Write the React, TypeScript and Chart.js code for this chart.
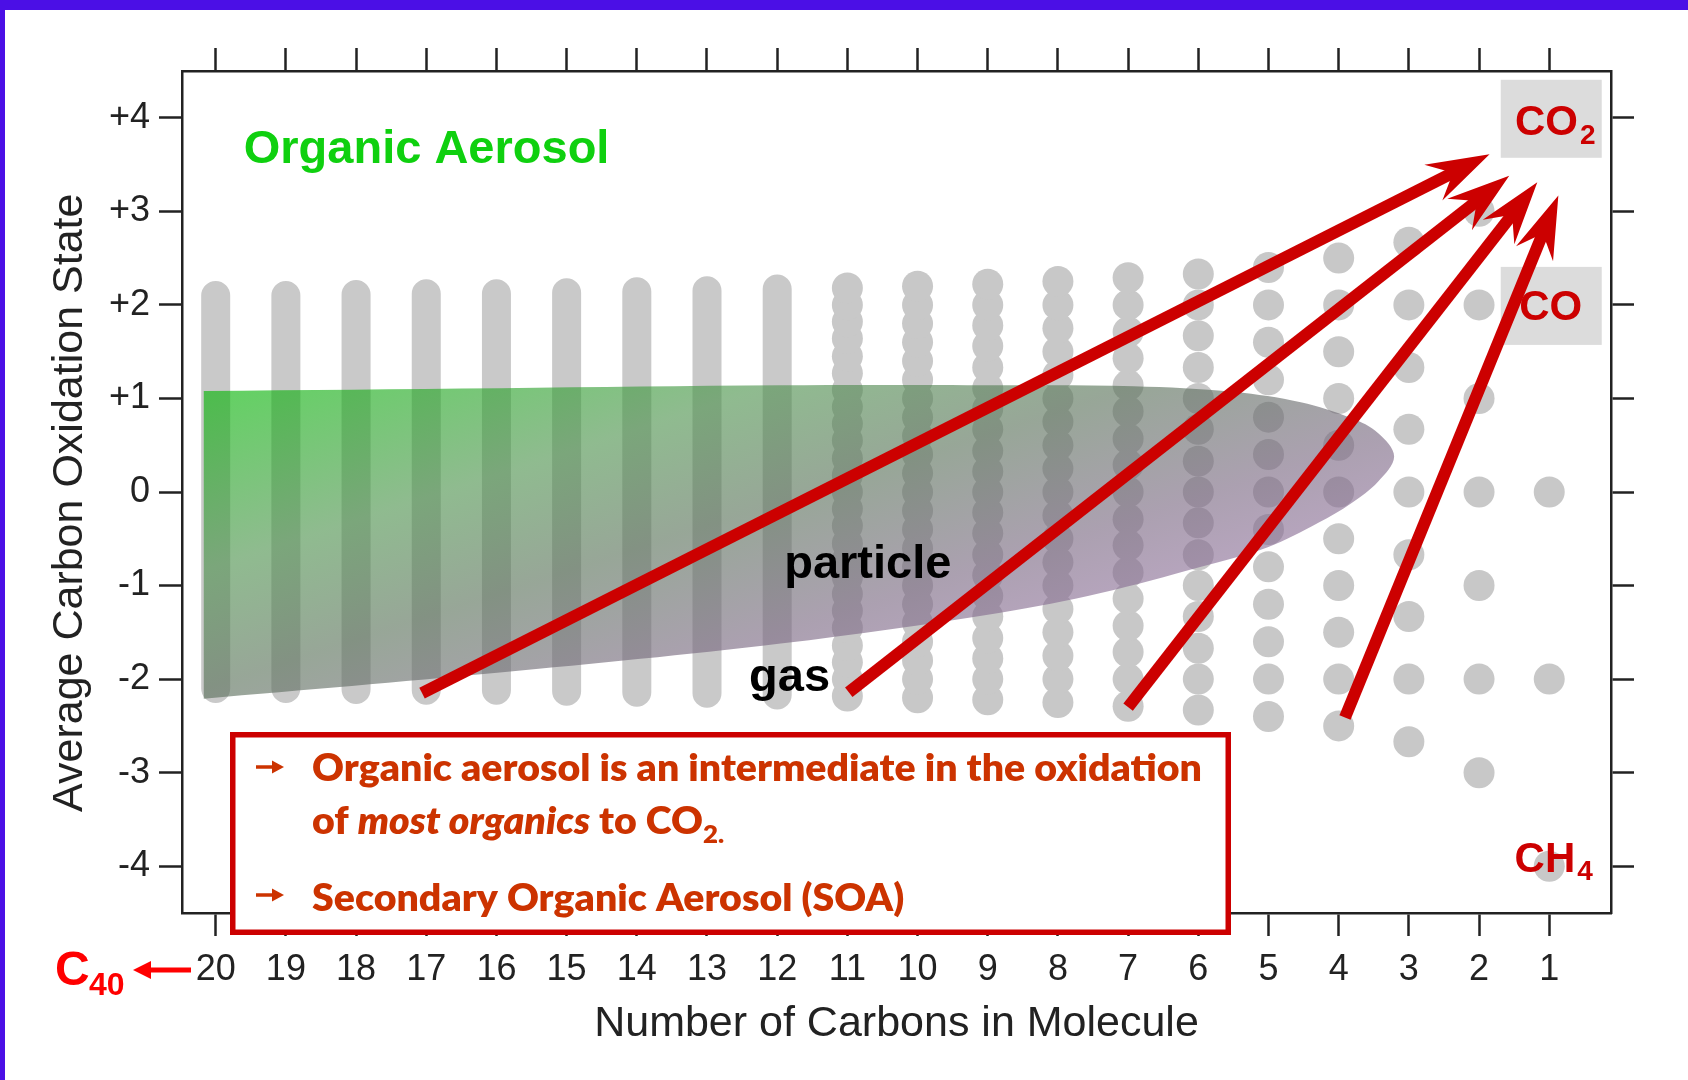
import React, { useEffect, useRef } from 'react';
import { Chart, registerables } from 'chart.js';

Chart.register(...registerables);

const FONT = "'Liberation Sans', Arial, Helvetica, sans-serif";
const LEGEND_FONT = "Lato, 'Open Sans', sans-serif";

// ---- axis ticks ----
const carbonTicks = [20, 19, 18, 17, 16, 15, 14, 13, 12, 11, 10, 9, 8, 7, 6, 5, 4, 3, 2, 1];
const oxidationTicks = [-4, -3, -2, -1, 0, 1, 2, 3, 4];

// ---- dense compound columns (larger molecules) ----
const columnCarbons = [20, 19, 18, 17, 16, 15, 14, 13, 12];
const columnLow = [-2.1, -2.1, -2.11, -2.12, -2.12, -2.13, -2.14, -2.15, -2.17];
const columnHigh = [2.1, 2.1, 2.11, 2.12, 2.12, 2.13, 2.14, 2.15, 2.17];

// ---- individual compounds ----
const statesC11 = [-2.18, -2, -1.82, -1.64, -1.45, -1.27, -1.09, -0.91, -0.73, -0.55, -0.36, -0.18, 0, 0.18, 0.36, 0.55, 0.73, 0.91, 1.09, 1.27, 1.45, 1.64, 1.82, 2, 2.18];
const statesC10 = [-2.2, -2, -1.8, -1.6, -1.4, -1.2, -1, -0.8, -0.6, -0.4, -0.2, 0, 0.2, 0.4, 0.6, 0.8, 1, 1.2, 1.4, 1.6, 1.8, 2, 2.2];
const statesC9 = [-2.22, -2, -1.78, -1.56, -1.33, -1.11, -0.89, -0.67, -0.44, -0.22, 0, 0.22, 0.44, 0.67, 0.89, 1.11, 1.33, 1.56, 1.78, 2, 2.22];
const statesC8 = [-2.25, -2, -1.75, -1.5, -1.25, -1, -0.75, -0.5, -0.25, 0, 0.25, 0.5, 0.75, 1, 1.25, 1.5, 1.75, 2, 2.25];
const statesC7 = [-2.29, -2, -1.71, -1.43, -1.14, -0.86, -0.57, -0.29, 0, 0.29, 0.57, 0.86, 1.14, 1.43, 1.71, 2, 2.29];
const statesC6 = [-2.33, -2, -1.67, -1.33, -1, -0.67, -0.33, 0, 0.33, 0.67, 1, 1.33, 1.67, 2, 2.33];
const statesC5 = [-2.4, -2, -1.6, -1.2, -0.8, -0.4, 0, 0.4, 0.8, 1.2, 1.6, 2, 2.4];
const statesC4 = [-2.5, -2, -1.5, -1, -0.5, 0, 0.5, 1, 1.5, 2, 2.5];
const statesC3 = [-2.67, -2, -1.33, -0.67, 0, 0.67, 1.33, 2, 2.67];
const statesC2 = [-3, -2, -1, 0, 1, 2, 3];
const statesC1 = [-4, -2, 0, 2, 4];
const dotCarbons = [11, 10, 9, 8, 7, 6, 5, 4, 3, 2, 1];
const dotStates = [statesC11, statesC10, statesC9, statesC8, statesC7, statesC6, statesC5, statesC4, statesC3, statesC2, statesC1];

// ---- organic aerosol region outline ----
const aerosolTopX = [20.17, 15.95, 11.95, 8.82, 6.92, 5.49, 4.54, 3.82, 3.44, 3.21];
const aerosolTopY = [1.08, 1.11, 1.14, 1.14, 1.13, 1.07, 0.96, 0.79, 0.63, 0.38];
const aerosolBottomX = [3.44, 3.82, 4.29, 5.01, 5.96, 7.39, 8.82, 11.95, 15.95, 20.17];
const aerosolBottomY = [0.11, -0.12, -0.33, -0.59, -0.8, -1.08, -1.29, -1.62, -1.93, -2.21];

// ---- oxidation arrows ----
const arrowStartX = [17.06, 10.98, 7.0, 3.91];
const arrowStartY = [-2.15, -2.14, -2.3, -2.41];
const arrowEndX = [1.85, 1.57, 1.17, 0.87];
const arrowEndY = [3.61, 3.38, 3.31, 3.17];

// ---- build datasets from arrays ----
const columnData: any[] = [];
columnCarbons.forEach((c, i) => {
  columnData.push({ x: c, y: columnLow[i] }, { x: c, y: columnHigh[i] }, { x: c, y: null });
});
const dotData = dotCarbons.flatMap((c, i) => dotStates[i].map((s) => ({ x: c, y: s })));
const shapeData = [
  ...aerosolTopX.map((x, i) => ({ x, y: aerosolTopY[i] })),
  ...aerosolBottomX.map((x, i) => ({ x, y: aerosolBottomY[i] })),
];

function drawBarbArrow(ctx: CanvasRenderingContext2D, sx: number, sy: number, tx: number, ty: number) {
  const width = 12, headLen = 63, headHalf = 20, notch = 41;
  const dx = tx - sx, dy = ty - sy;
  const len = Math.hypot(dx, dy);
  const ux = dx / len, uy = dy / len;
  const nx = -uy, ny = ux;
  const bx = tx - ux * headLen, by = ty - uy * headLen;
  const mx = tx - ux * notch, my = ty - uy * notch;
  ctx.strokeStyle = '#cc0000';
  ctx.fillStyle = '#cc0000';
  ctx.lineWidth = width;
  ctx.lineCap = 'butt';
  ctx.beginPath();
  ctx.moveTo(sx, sy);
  ctx.lineTo(mx + ux * 2, my + uy * 2);
  ctx.stroke();
  ctx.beginPath();
  ctx.moveTo(tx, ty);
  ctx.lineTo(bx + nx * headHalf, by + ny * headHalf);
  ctx.lineTo(mx, my);
  ctx.lineTo(bx - nx * headHalf, by - ny * headHalf);
  ctx.closePath();
  ctx.fill();
}

function chemLabel(ctx: CanvasRenderingContext2D, cx: number, baseline: number, main: string, sub: string, mainSize: number, subSize: number, drop: number) {
  ctx.font = `bold ${mainSize}px ${FONT}`;
  const wm = ctx.measureText(main).width;
  ctx.font = `bold ${subSize}px ${FONT}`;
  const ws = sub ? ctx.measureText(sub).width : 0;
  const left = cx - (wm + (sub ? 2 + ws : 0)) / 2;
  ctx.fillStyle = '#cc0000';
  ctx.textAlign = 'left';
  ctx.textBaseline = 'alphabetic';
  ctx.font = `bold ${mainSize}px ${FONT}`;
  ctx.fillText(main, left, baseline);
  if (sub) {
    ctx.font = `bold ${subSize}px ${FONT}`;
    ctx.fillText(sub, left + wm + 2, baseline + drop);
  }
}

function drawBullet(ctx: CanvasRenderingContext2D, x0: number, x1: number, y: number, color: string) {
  ctx.strokeStyle = color;
  ctx.fillStyle = color;
  ctx.lineWidth = 3.5;
  ctx.lineCap = 'butt';
  ctx.beginPath();
  ctx.moveTo(x0, y);
  ctx.lineTo(x1 - 9, y);
  ctx.stroke();
  ctx.beginPath();
  ctx.moveTo(x1, y);
  ctx.lineTo(x1 - 12, y - 6.5);
  ctx.lineTo(x1 - 12, y + 6.5);
  ctx.closePath();
  ctx.fill();
}

function drawLegendBox(ctx: CanvasRenderingContext2D) {
  const L = 230, T = 732, R = 1231, B = 935, bw = 5.5;
  ctx.fillStyle = '#ffffff';
  ctx.fillRect(L, T, R - L, B - T);
  ctx.strokeStyle = '#cc0000';
  ctx.lineWidth = bw;
  ctx.strokeRect(L + bw / 2, T + bw / 2, R - L - bw, B - T - bw);
  const color = '#cc3300';
  drawBullet(ctx, 256, 284, 767, color);
  drawBullet(ctx, 256, 284, 895, color);
  const fN = `800 38px ${LEGEND_FONT}`;
  const fI = `italic 800 38px ${LEGEND_FONT}`;
  const fS = `800 25px ${LEGEND_FONT}`;
  const line1 = 'Organic aerosol is an intermediate in the oxidation';
  ctx.font = fN;
  const sx = 890 / ctx.measureText(line1).width;
  ctx.fillStyle = color;
  ctx.textAlign = 'left';
  ctx.textBaseline = 'alphabetic';
  const runs = (items: { t: string; f: string; dy?: number }[], x: number, y: number) => {
    ctx.save();
    ctx.translate(x, y);
    ctx.scale(sx, 1);
    let cx = 0;
    for (const r of items) {
      ctx.font = r.f;
      ctx.fillText(r.t, cx, r.dy || 0);
      cx += ctx.measureText(r.t).width;
    }
    ctx.restore();
  };
  runs([{ t: line1, f: fN }], 312, 781);
  runs([
    { t: 'of ', f: fN },
    { t: 'most organics', f: fI },
    { t: ' to CO', f: fN },
    { t: '2.', f: fS, dy: 9 },
  ], 312, 834);
  runs([{ t: 'Secondary Organic Aerosol (SOA)', f: fN }], 312, 911);
}

const annotationPlugin = {
  id: 'figureAnnotations',
  beforeDraw(chart: any) {
    const { ctx, width, height } = chart;
    ctx.save();
    ctx.fillStyle = '#ffffff';
    ctx.fillRect(0, 0, width, height);
    ctx.fillStyle = '#4b0fe6';
    ctx.fillRect(0, 0, width, 10);
    ctx.fillRect(0, 0, 5, height);
    ctx.restore();
  },
  afterDatasetsDraw(chart: any) {
    const { ctx } = chart;
    const xs = chart.scales.x, ys = chart.scales.y;
    ctx.save();
    for (const v of [4, 2]) {
      const cx = xs.getPixelForValue(1) + 2;
      const cy = ys.getPixelForValue(v) + 1;
      ctx.fillStyle = '#dcdcdc';
      ctx.fillRect(cx - 50.5, cy - 39, 101, 78);
    }
    chart.data.datasets.forEach((ds: any, i: number) => {
      if (!String(ds.label).startsWith('arrow')) return;
      const pts = chart.getDatasetMeta(i).data;
      drawBarbArrow(ctx, pts[0].x, pts[0].y, pts[1].x, pts[1].y);
    });
    ctx.restore();
  },
  afterDraw(chart: any) {
    const { ctx } = chart;
    const xs = chart.scales.x, ys = chart.scales.y;
    const X = (v: number) => xs.getPixelForValue(v);
    const Y = (v: number) => ys.getPixelForValue(v);
    ctx.save();
    ctx.textAlign = 'left';
    ctx.textBaseline = 'alphabetic';
    // species labels
    chemLabel(ctx, X(1) + 6, Y(4) + 17, 'CO', '2', 42, 28, 9);
    chemLabel(ctx, X(1) + 1.5, Y(2) + 15, 'CO', '', 42, 28, 0);
    chemLabel(ctx, X(1) + 4.5, Y(-4) + 6, 'CH', '4', 42, 28, 8);
    // region labels
    ctx.fillStyle = '#0fd00f';
    ctx.font = `bold 47px ${FONT}`;
    ctx.fillText('Organic Aerosol', X(19.6), Y(3.52));
    ctx.fillStyle = '#000000';
    ctx.font = `bold 47px ${FONT}`;
    ctx.fillText('particle', X(11.9), Y(-0.92));
    ctx.fillText('gas', X(12.4), Y(-2.13));
    // legend box
    drawLegendBox(ctx);
    // C40 marker
    ctx.fillStyle = '#ff0000';
    ctx.font = `bold 48px ${FONT}`;
    ctx.fillText('C', 55, 985);
    ctx.font = `bold 32px ${FONT}`;
    ctx.fillText('40', 89, 995);
    ctx.strokeStyle = '#ff0000';
    ctx.lineWidth = 5;
    ctx.lineCap = 'butt';
    ctx.beginPath();
    ctx.moveTo(191, 970);
    ctx.lineTo(146, 970);
    ctx.stroke();
    ctx.beginPath();
    ctx.moveTo(133, 970);
    ctx.lineTo(151, 961);
    ctx.lineTo(151, 979);
    ctx.closePath();
    ctx.fill();
    ctx.restore();
  },
};

const tickGrid = {
  drawOnChartArea: false,
  drawTicks: true,
  tickLength: 23,
  tickWidth: 2.5,
  tickColor: '#222222',
};
const axisBorder = { display: true, color: '#222222', width: 2.5 };

export default function App() {
  const ref = useRef<HTMLCanvasElement>(null);
  useEffect(() => {
    const canvas = ref.current;
    if (!canvas) return;
    Chart.defaults.font.family = FONT;
    const datasets: any[] = [
      {
        label: 'organic aerosol',
        data: shapeData,
        showLine: true,
        fill: 'shape',
        borderWidth: 0,
        borderColor: 'rgba(0,0,0,0)',
        pointRadius: 0,
        tension: 0.35,
        order: 2,
        backgroundColor: (context: any) => {
          const chart = context.chart;
          const xs = chart.scales.x, ys = chart.scales.y;
          if (!chart.chartArea || !xs || !ys) return 'rgba(120,160,120,0.6)';
          const g = chart.ctx.createLinearGradient(
            xs.getPixelForValue(20.17), ys.getPixelForValue(1.08),
            xs.getPixelForValue(17.68), ys.getPixelForValue(-4.68)
          );
          g.addColorStop(0, 'rgba(0,182,0,0.62)');
          g.addColorStop(0.3, 'rgba(75,145,75,0.62)');
          g.addColorStop(0.5, 'rgba(88,112,88,0.62)');
          g.addColorStop(0.72, 'rgba(120,102,128,0.62)');
          g.addColorStop(1, 'rgba(160,118,176,0.62)');
          return g;
        },
      },
      {
        label: 'compounds',
        data: dotData,
        showLine: false,
        pointRadius: 15.5,
        pointBackgroundColor: 'rgb(200,200,200)',
        pointBorderWidth: 0,
        pointBorderColor: 'rgba(0,0,0,0)',
        order: 3,
      },
      {
        label: 'compound families',
        data: columnData,
        showLine: true,
        spanGaps: false,
        borderWidth: 29,
        borderColor: 'rgb(201,201,201)',
        borderCapStyle: 'round',
        pointRadius: 0,
        tension: 0,
        order: 4,
      },
      ...arrowStartX.map((x, i) => ({
        label: 'arrow ' + (i + 1),
        data: [{ x, y: arrowStartY[i] }, { x: arrowEndX[i], y: arrowEndY[i] }],
        showLine: false,
        pointRadius: 0,
        order: 1,
      })),
    ];
    const chart = new Chart(canvas, {
      type: 'line',
      data: { datasets },
      options: {
        responsive: false,
        animation: false,
        events: [],
        layout: { padding: 0, autoPadding: false },
        plugins: { legend: { display: false }, tooltip: { enabled: false }, title: { display: false } },
        scales: {
          x: {
            type: 'linear',
            position: 'bottom',
            min: 0.12,
            max: 20.48,
            reverse: true,
            afterBuildTicks: (s: any) => { s.ticks = carbonTicks.map((v) => ({ value: v })); },
            afterFit: (s: any) => { s.height = 167; },
            grid: tickGrid,
            border: axisBorder,
            ticks: { font: { family: FONT, size: 36 }, color: '#222222', padding: 12, maxRotation: 0, minRotation: 0, autoSkip: false },
            title: { display: true, text: 'Number of Carbons in Molecule', font: { family: FONT, size: 43 }, color: '#222222', padding: { top: 0, bottom: 30 } },
          },
          x2: {
            type: 'linear',
            position: 'top',
            min: 0.12,
            max: 20.48,
            reverse: true,
            afterBuildTicks: (s: any) => { s.ticks = carbonTicks.map((v) => ({ value: v })); },
            afterFit: (s: any) => { s.height = 71; },
            grid: tickGrid,
            border: axisBorder,
            ticks: { display: false },
          },
          y: {
            type: 'linear',
            position: 'left',
            min: -4.5,
            max: 4.5,
            afterBuildTicks: (s: any) => { s.ticks = oxidationTicks.map((v) => ({ value: v })); },
            afterFit: (s: any) => { s.width = 182; },
            grid: tickGrid,
            border: axisBorder,
            ticks: {
              font: { family: FONT, size: 36 },
              color: '#222222',
              padding: 9,
              callback: (v: any) => (Number(v) > 0 ? '+' + v : String(v)),
            },
            title: { display: true, text: 'Average Carbon Oxidation State\u2002', font: { family: FONT, size: 43 }, color: '#222222', padding: { top: 44, bottom: 0 } },
          },
          y2: {
            type: 'linear',
            position: 'right',
            min: -4.5,
            max: 4.5,
            afterBuildTicks: (s: any) => { s.ticks = oxidationTicks.map((v) => ({ value: v })); },
            afterFit: (s: any) => { s.width = 77; },
            grid: tickGrid,
            border: axisBorder,
            ticks: { display: false },
          },
        },
      } as any,
      plugins: [annotationPlugin as any],
    });
    return () => chart.destroy();
  }, []);
  return (
    <div style={{ position: 'absolute', left: 0, top: 0, width: 1688, height: 1080, background: '#ffffff' }}>
      <canvas ref={ref} width={1688} height={1080} style={{ display: 'block', width: 1688, height: 1080 }} />
    </div>
  );
}
